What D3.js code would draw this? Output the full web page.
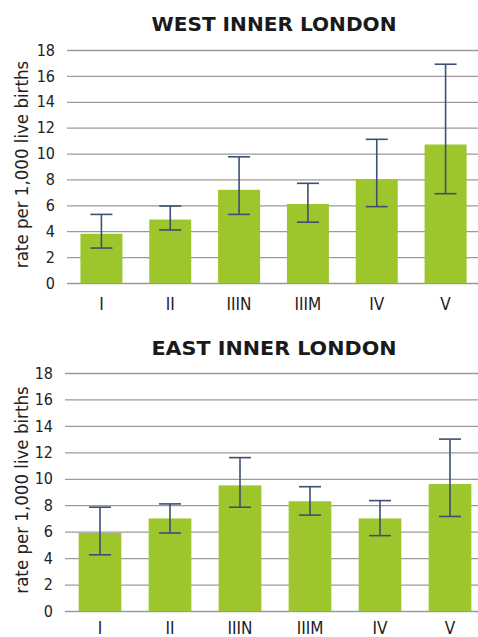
<!DOCTYPE html>
<html>
<head>
<meta charset="utf-8">
<script src="https://cdn.jsdelivr.net/npm/d3@7"></script>
<style>
  body { margin: 0; background: #fff; }
  svg { display: block; }
  .tick text { font-family: "DejaVu Sans Condensed", "DejaVu Sans", sans-serif; font-size: 16px; fill: #222; }
  .label { font-family: "DejaVu Sans Condensed", "DejaVu Sans", sans-serif; font-size: 17px; fill: #222; }
  .ylabel { font-family: "DejaVu Sans Condensed", "DejaVu Sans", sans-serif; font-size: 18.5px; fill: #222; }
  .title { font-family: "DejaVu Sans Condensed", "DejaVu Sans", sans-serif; font-size: 20px; font-weight: bold; fill: #1a1a1a; }
</style>
</head>
<body>
<div id="chart"></div>
<script>
var width = 478;
var height = 637;

var classes = ["I", "II", "IIIN", "IIIM", "IV", "V"];
var yTicks = [0, 2, 4, 6, 8, 10, 12, 14, 16, 18];

var westRate = [3.8, 4.9, 7.2, 6.1, 8.0, 10.7];
var westLow  = [2.7, 4.1, 5.3, 4.7, 5.9, 6.9];
var westHigh = [5.3, 5.95, 9.75, 7.7, 11.1, 16.9];

var eastRate = [5.9, 7.0, 9.5, 8.3, 7.0, 9.6];
var eastLow  = [4.25, 5.9, 7.85, 7.25, 5.7, 7.15];
var eastHigh = [7.85, 8.1, 11.6, 9.4, 8.35, 13.0];

var svg = d3.select("#chart")
  .append("svg")
  .attr("width", width)
  .attr("height", height);

function panel(title, rate, low, high, top, bottom, left, right, titleY, labelY) {
  var g = svg.append("g");

  var xscale = d3.scaleBand()
    .domain(classes)
    .range([left, right])
    .paddingInner(0.39)
    .paddingOuter(0.195);

  var yscale = d3.scaleLinear()
    .domain([0, 18])
    .range([bottom, top]);

  // gridlines + y labels
  var yaxis = d3.axisLeft(yscale)
    .tickValues(yTicks)
    .tickSize(-(width - left))
    .tickPadding(12);

  g.append("g")
    .attr("transform", "translate(" + left + ",0)")
    .call(yaxis)
    .call(function (a) {
      a.select(".domain").remove();
      a.selectAll(".tick line").attr("stroke", "#9a9a9a").attr("stroke-width", 1.3);
    });

  // bars
  g.selectAll("rect.bar")
    .data(rate)
    .enter()
    .append("rect")
    .attr("class", "bar")
    .attr("x", function (d, i) { return xscale(classes[i]); })
    .attr("y", function (d) { return yscale(d); })
    .attr("width", xscale.bandwidth())
    .attr("height", function (d) { return yscale(0) - yscale(d); })
    .attr("fill", "#9cc62b");

  // error bars
  var cap = 11;
  var eb = g.selectAll("g.err")
    .data(rate)
    .enter()
    .append("g")
    .attr("class", "err")
    .attr("stroke", "#3d4f74")
    .attr("stroke-width", 1.6);

  eb.append("line")
    .attr("x1", function (d, i) { return xscale(classes[i]) + xscale.bandwidth() / 2; })
    .attr("x2", function (d, i) { return xscale(classes[i]) + xscale.bandwidth() / 2; })
    .attr("y1", function (d, i) { return yscale(low[i]); })
    .attr("y2", function (d, i) { return yscale(high[i]); });

  [low, high].forEach(function (arr) {
    eb.append("line")
      .attr("x1", function (d, i) { return xscale(classes[i]) + xscale.bandwidth() / 2 - cap; })
      .attr("x2", function (d, i) { return xscale(classes[i]) + xscale.bandwidth() / 2 + cap; })
      .attr("y1", function (d, i) { return yscale(arr[i]); })
      .attr("y2", function (d, i) { return yscale(arr[i]); });
  });

  // x labels
  g.selectAll("text.xl")
    .data(classes)
    .enter()
    .append("text")
    .attr("class", "label")
    .attr("x", function (d) { return xscale(d) + xscale.bandwidth() / 2; })
    .attr("y", labelY)
    .attr("text-anchor", "middle")
    .text(function (d) { return d; });

  // y axis label
  g.append("text")
    .attr("class", "ylabel")
    .attr("transform", "translate(28," + ((top + bottom) / 2 - 2) + ") rotate(-90)")
    .attr("text-anchor", "middle")
    .text("rate per 1,000 live births");

  // title
  g.append("text")
    .attr("class", "title")
    .attr("x", 274)
    .attr("y", titleY)
    .attr("text-anchor", "middle")
    .attr("textLength", 245)
    .attr("lengthAdjust", "spacingAndGlyphs")
    .text(title);
}

panel("WEST INNER LONDON", westRate, westLow, westHigh, 50, 283, 67, 480, 31, 310);
panel("EAST INNER LONDON", eastRate, eastLow, eastHigh, 373, 611, 65, 485, 355, 634);
</script>
</body>
</html>
